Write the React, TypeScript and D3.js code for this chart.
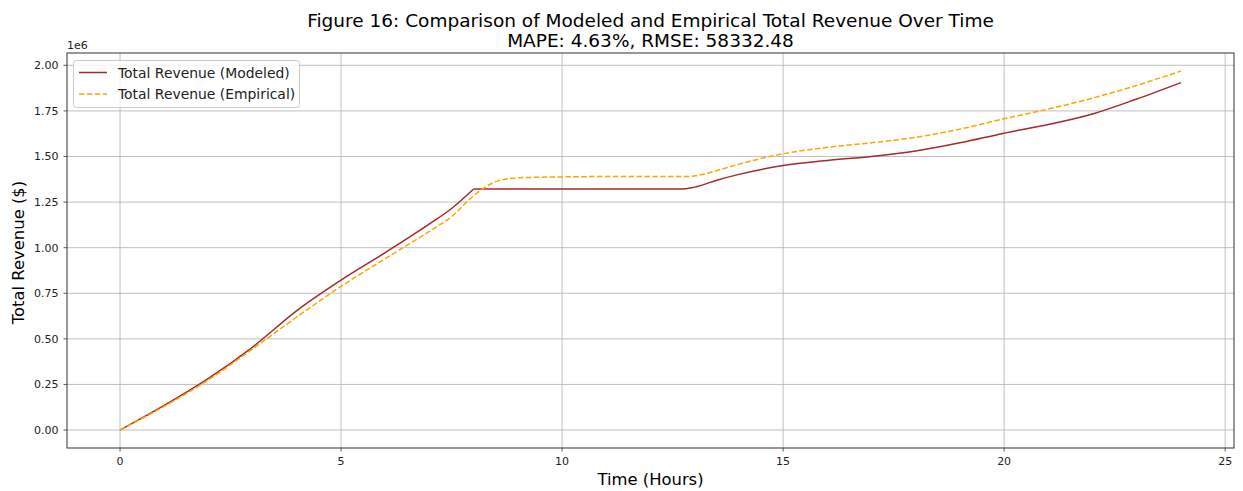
import React from "react";
import * as d3 from "d3";

const hours = [0, 1, 2, 3, 4, 5, 6, 7, 7.5, 8, 9, 10, 11, 12, 12.6, 12.8, 13, 13.5, 14, 15, 16, 17, 18, 19, 20, 21, 22, 23, 24];
const modeled = [0, 0.135, 0.283, 0.455, 0.655, 0.822, 0.973, 1.13, 1.215, 1.322, 1.322, 1.322, 1.322, 1.322, 1.322, 1.323, 1.332, 1.37, 1.402, 1.45, 1.478, 1.5, 1.53, 1.575, 1.628, 1.675, 1.733, 1.815, 1.905];

const hoursEmp = [0, 1, 2, 3, 4, 5, 6, 7, 7.5, 8, 8.5, 9, 10, 11, 12, 12.6, 12.9, 13.2, 13.5, 14, 15, 16, 17, 18, 19, 20, 21, 22, 23, 24];
const empirical = [0, 0.13, 0.275, 0.445, 0.62, 0.788, 0.94, 1.09, 1.17, 1.285, 1.362, 1.383, 1.388, 1.39, 1.39, 1.39, 1.391, 1.403, 1.423, 1.458, 1.515, 1.55, 1.575, 1.605, 1.65, 1.707, 1.76, 1.82, 1.89, 1.969];

const xTicks = [0, 5, 10, 15, 20, 25];
const yTicks = [0, 0.25, 0.5, 0.75, 1.0, 1.25, 1.5, 1.75, 2.0];

const titleLine1 = "Figure 16: Comparison of Modeled and Empirical Total Revenue Over Time";
const titleLine2 = "MAPE: 4.63%, RMSE: 58332.48";
const seriesNames = ["Total Revenue (Modeled)", "Total Revenue (Empirical)"];

const W = 1243;
const H = 491;
const M = { left: 67, right: 1234, top: 53, bottom: 448 };
const FONT = "DejaVu Sans, sans-serif";

export default function App() {
  const x = d3.scaleLinear().domain([-1.2, 25.2]).range([M.left, M.right]);
  const yMax = 1.969;
  const pad = yMax * 0.05;
  const y = d3.scaleLinear().domain([-pad, yMax + pad]).range([M.bottom, M.top]);

  const line = d3.line<[number, number]>().x(d => x(d[0])).y(d => y(d[1])).curve(d3.curveMonotoneX);
  const modPts = hours.map((h, i) => [h, modeled[i]] as [number, number]);
  const empPts = hoursEmp.map((h, i) => [h, empirical[i]] as [number, number]);
  const kink = hours.indexOf(8);
  const modA = modPts.slice(0, kink + 1);
  const modB = modPts.slice(kink);

  return (
    <svg width={W} height={H} style={{ display: "block", position: "absolute", left: 0, top: 0 }} fontFamily={FONT}>
      <rect width={W} height={H} fill="white" />
      <text x={(M.left + M.right) / 2} y={27} textAnchor="middle" fontSize={18.5} fill="#000">{titleLine1}</text>
      <text x={(M.left + M.right) / 2} y={46.5} textAnchor="middle" fontSize={18.5} fill="#000">{titleLine2}</text>
      {xTicks.map(t => (
        <line key={"gx" + t} x1={x(t)} x2={x(t)} y1={M.top} y2={M.bottom} stroke="#b0b0b0" strokeWidth={0.8} />
      ))}
      {yTicks.map(t => (
        <line key={"gy" + t} x1={M.left} x2={M.right} y1={y(t)} y2={y(t)} stroke="#b0b0b0" strokeWidth={0.8} />
      ))}
      <path d={line(modA) || ""} fill="none" stroke="#a52a2a" strokeWidth={1.5} />
      <path d={line(modB) || ""} fill="none" stroke="#a52a2a" strokeWidth={1.5} />
      <path d={line(empPts) || ""} fill="none" stroke="#ffa500" strokeWidth={1.5} strokeDasharray="5.5,2.4" />
      <rect x={M.left} y={M.top} width={M.right - M.left} height={M.bottom - M.top} fill="none" stroke="#333" strokeWidth={1} />
      {xTicks.map(t => (
        <g key={"tx" + t}>
          <line x1={x(t)} x2={x(t)} y1={M.bottom} y2={M.bottom + 3.5} stroke="#333" strokeWidth={0.8} />
          <text x={x(t)} y={M.bottom + 17} textAnchor="middle" fontSize={11} fill="#222">{t}</text>
        </g>
      ))}
      {yTicks.map(t => (
        <g key={"ty" + t}>
          <line x1={M.left - 3.5} x2={M.left} y1={y(t)} y2={y(t)} stroke="#333" strokeWidth={0.8} />
          <text x={M.left - 8.5} y={y(t) + 4} textAnchor="end" fontSize={11} fill="#222">{t.toFixed(2)}</text>
        </g>
      ))}
      <text x={M.left} y={M.top - 4} fontSize={11} fill="#222">1e6</text>
      <text x={(M.left + M.right) / 2} y={485} textAnchor="middle" fontSize={16.4} fill="#000">Time (Hours)</text>
      <text transform={`translate(24,${(M.top + M.bottom) / 2 + 2}) rotate(-90)`} textAnchor="middle" fontSize={16.4} fill="#000">Total Revenue ($)</text>
      <g>
        <rect x={73.5} y={60.5} width={226} height={47} rx={3} fill="white" fillOpacity={0.8} stroke="#ccc" strokeWidth={1} />
        <line x1={79} x2={107} y1={72.5} y2={72.5} stroke="#a52a2a" strokeWidth={1.5} />
        <text x={118} y={77.5} fontSize={13.9} fill="#222">{seriesNames[0]}</text>
        <line x1={79} x2={107} y1={94} y2={94} stroke="#ffa500" strokeWidth={1.5} strokeDasharray="5.5,2.4" />
        <text x={118} y={99} fontSize={13.9} fill="#222">{seriesNames[1]}</text>
      </g>
    </svg>
  );
}
